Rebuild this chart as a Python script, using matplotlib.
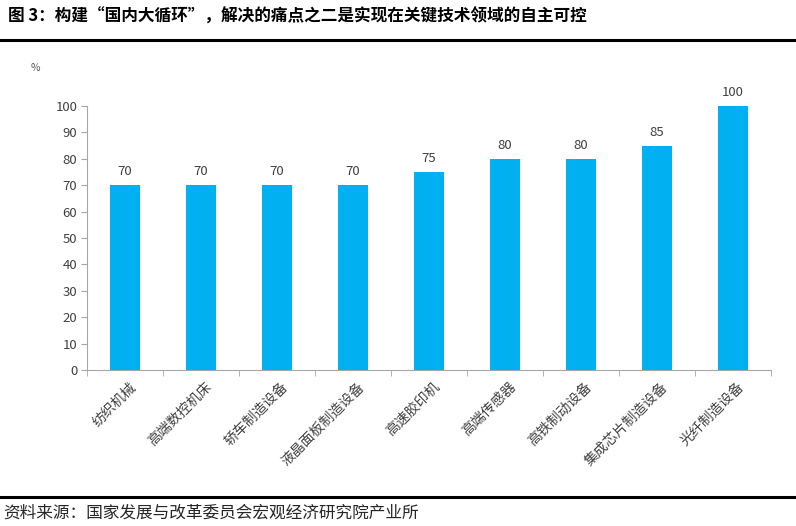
import matplotlib
matplotlib.use("Agg")
import matplotlib.pyplot as plt
import numpy as np

plt.rcParams['font.family'] = ['Noto Sans CJK SC', 'DejaVu Sans']

categories = ["纺织机械", "高端数控机床", "轿车制造设备", "液晶面板制造设备", "高速胶印机",
              "高端传感器", "高铁制动设备", "集成芯片制造设备", "光纤制造设备"]
values = [70, 70, 70, 70, 75, 80, 80, 85, 100]
yticks = [0, 10, 20, 30, 40, 50, 60, 70, 80, 90, 100]
title = "图 3：构建“国内大循环”，解决的痛点之二是实现在关键技术领域的自主可控"
source = "资料来源：国家发展与改革委员会宏观经济研究院产业所"
unit = "%"

W, H = 796, 526
fig = plt.figure(figsize=(W / 100, H / 100), dpi=100)
ax = fig.add_axes([87 / W, 1 - 370 / H, (771 - 87) / W, (370 - 106) / H])

x = np.arange(len(categories))
bar_color = "#00B0F0"
ax.bar(x, values, width=0.4, color=bar_color, zorder=2)
for xi, v in zip(x, values):
    ax.annotate(str(v), (xi, v), xytext=(0, 5), textcoords="offset points",
                ha="center", va="bottom", fontsize=9.5, color="#404040")

ax.set_xlim(-0.5, len(categories) - 0.5)
ax.set_ylim(0, 100)
ax.set_yticks(yticks)
ax.set_yticklabels([str(t) for t in yticks], fontsize=9.5, color="#404040")
ax.set_xticks(x + 0.05)
ax.set_xticklabels(categories, rotation=45, ha="right", rotation_mode="anchor",
                   fontsize=10, color="#404040")
ax.tick_params(axis="x", length=0, pad=7)
ax.set_xticks(np.arange(len(categories) + 1) - 0.5, minor=True)
ax.tick_params(axis="x", which="minor", length=4, color="#A6A6A6", direction="out")
ax.tick_params(axis="y", length=4, color="#A6A6A6", direction="out", pad=3)

for s in ["top", "right"]:
    ax.spines[s].set_visible(False)
for s in ["left", "bottom"]:
    ax.spines[s].set_color("#A6A6A6")
    ax.spines[s].set_linewidth(0.8)

fig.text(31 / W, 1 - 68 / H, unit, fontsize=7.5, color="#595959", ha="left", va="center")

fig.text(8 / W, 1 - 17 / H, title, fontsize=12, fontweight="bold", color="black",
         ha="left", va="center")
fig.add_artist(plt.Line2D([0, 1], [1 - 40 / H, 1 - 40 / H], color="black", linewidth=2.2,
                          transform=fig.transFigure))
fig.add_artist(plt.Line2D([0, 1], [1 - 497 / H, 1 - 497 / H], color="black", linewidth=2.2,
                          transform=fig.transFigure))
fig.text(3 / W, 1 - 513 / H, source, fontsize=12, color="#262626", ha="left", va="center")

fig.savefig("out.png", dpi=100)
